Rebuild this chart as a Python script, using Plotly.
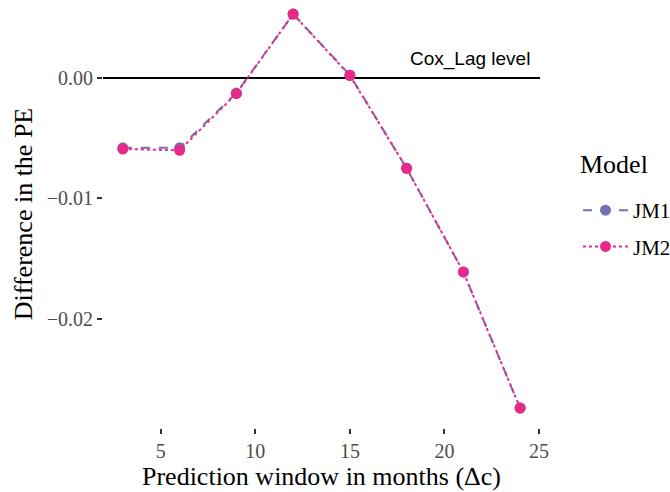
import plotly.graph_objects as go

months = [3, 6, 9, 12, 15, 18, 21, 24]
jm1 = [-0.0058, -0.0058, -0.00125, 0.0053, 0.00025, -0.0075, -0.0161, -0.0274]
jm2 = [-0.0059, -0.0060, -0.0013, 0.0053, 0.00020, -0.0075, -0.0161, -0.0274]
x_ticks = [5, 10, 15, 20, 25]
y_ticks = [0.0, -0.01, -0.02]
y_tick_labels = ["0.00", "\u22120.01", "\u22120.02"]

serif = "Liberation Serif, Times New Roman, serif"

fig = go.Figure()
fig.add_trace(go.Scatter(
    x=months, y=jm1, name="JM1", mode="lines+markers", legendgroup="a",
    line=dict(color="#7570B3", width=2, dash="dash"),
    marker=dict(color="#7570B3", size=11),
))
fig.add_trace(go.Scatter(
    x=months, y=jm2, name="JM2", mode="lines+markers", legendgroup="b",
    line=dict(color="#E7298A", width=2, dash="dot"),
    marker=dict(color="#E7298A", size=11),
))

fig.add_shape(type="line", xref="paper", yref="y", x0=0, x1=1, y0=0, y1=0,
              line=dict(color="black", width=2), layer="below")
fig.add_annotation(x=0.982, xref="paper", y=0, yref="y", text="Cox_Lag level",
                   showarrow=False, xanchor="right", yanchor="bottom", yshift=6,
                   font=dict(family="Liberation Sans, Arial, sans-serif", size=19, color="black"))
# legend title
fig.add_annotation(x=1.087, xref="paper", y=0.6145, yref="paper", text="Model",
                   showarrow=False, xanchor="left", yanchor="middle",
                   font=dict(family=serif, size=26, color="black"))

fig.update_layout(
    width=670, height=492,
    margin=dict(l=103, r=130, t=0, b=64),
    plot_bgcolor="white", paper_bgcolor="white",
    font=dict(family=serif, color="black"),
    legend=dict(
        font=dict(size=21, family=serif, color="black"),
        xref="container", yref="container",
        x=0.8627, xanchor="left", y=0.6138, yanchor="top",
        itemwidth=45, tracegroupgap=6,
    ),
    xaxis=dict(
        range=[1.95, 25.05], tickvals=x_ticks, ticktext=[str(t) for t in x_ticks],
        showgrid=False, zeroline=False, showline=False, automargin=False,
        ticks="outside", ticklen=5, tickwidth=1.5, tickcolor="#333333",
        tickfont=dict(size=20, family=serif, color="#4d4d4d"),
        title=dict(text="Prediction window in months (\u0394c)", font=dict(size=26, family=serif, color="black"), standoff=4),
    ),
    yaxis=dict(
        range=[-0.02905, 0.00647], tickvals=y_ticks, ticktext=y_tick_labels,
        showgrid=False, zeroline=False, showline=False, automargin=False,
        ticks="outside", ticklen=5, tickwidth=1.5, tickcolor="#333333",
        tickfont=dict(size=20, family=serif, color="#4d4d4d"),
        title=dict(text="Difference in the PE", font=dict(size=26, family=serif, color="black"), standoff=6),
    ),
)

fig.write_html("out.html", config={"displayModeBar": False},
               post_script="document.body.style.margin='0';document.body.style.overflow='hidden';")
